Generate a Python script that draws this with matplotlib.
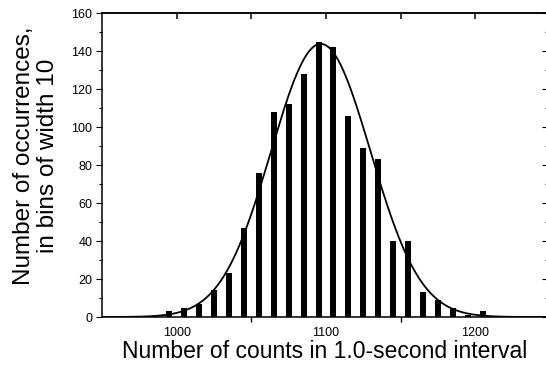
import numpy as np
import matplotlib
matplotlib.use("Agg")
import matplotlib.pyplot as plt
from matplotlib.ticker import FixedLocator, NullFormatter

plt.rcParams['font.family'] = ['Liberation Sans', 'DejaVu Sans']

# Data
bin_centers = [995, 1005, 1015, 1025, 1035, 1045, 1055, 1065, 1075, 1085, 1095,
               1105, 1115, 1125, 1135, 1145, 1155, 1165, 1175, 1185, 1195, 1205]
counts = [3, 5, 7, 14, 23, 47, 76, 108, 112, 128, 145,
          142, 106, 89, 83, 40, 40, 13, 9, 5, 1, 3]
fit_mean = 1096.5
fit_sigma = 33.3
fit_total = 1200
bin_width = 10
x_tick_labels = [1000, 1100, 1200]
y_ticks = [0, 20, 40, 60, 80, 100, 120, 140, 160]

fig = plt.figure(figsize=(5.46, 3.69), dpi=100)
ax = fig.add_axes([102/546, 1-317/369, 445/546, (317-13)/369])

ax.bar(bin_centers, counts, width=4, color='black', edgecolor='none', zorder=2)

xs = np.linspace(950, 1250, 600)
ys = fit_total * bin_width / (fit_sigma * np.sqrt(2*np.pi)) * np.exp(-(xs - fit_mean)**2 / (2*fit_sigma**2))
ax.plot(xs, ys, color='black', lw=1.3, zorder=3)

ax.set_xlim(950, 1248)
ax.set_ylim(0, 160)

for s in ax.spines.values():
    s.set_linewidth(1.1)
ax.spines['right'].set_visible(False)

# bottom x axis
ax.xaxis.set_major_locator(FixedLocator(x_tick_labels))
ax.xaxis.set_minor_locator(FixedLocator([1050, 1150]))
ax.tick_params(axis='x', which='major', length=0, labelsize=9, pad=7)
ax.tick_params(axis='x', which='minor', length=3.5, width=1, direction='out')

# left y axis
ax.yaxis.set_major_locator(FixedLocator(y_ticks))
ax.yaxis.set_minor_locator(FixedLocator(list(range(10, 160, 20))))
ax.tick_params(axis='y', which='major', length=4.5, width=0.8, direction='out', labelsize=9, pad=2.5)
ax.tick_params(axis='y', which='minor', length=2, width=0.8, direction='out')

# top axis ticks
top = ax.secondary_xaxis('top')
top.xaxis.set_major_locator(FixedLocator([1000, 1050, 1100, 1150, 1200]))
top.xaxis.set_major_formatter(NullFormatter())
top.tick_params(axis='x', which='major', length=4, width=1.1, direction='in')
top.spines['top'].set_linewidth(1.1)

# right axis ticks
right = ax.secondary_yaxis('right')
right.yaxis.set_major_locator(FixedLocator(y_ticks))
right.yaxis.set_minor_locator(FixedLocator(list(range(10, 160, 20))))
right.yaxis.set_major_formatter(NullFormatter())
right.tick_params(axis='y', which='major', length=3.5, width=0.8, direction='in')
right.tick_params(axis='y', which='minor', length=1.5, width=0.8, direction='in')

fig.text(325/546, 1-351/369, 'Number of counts in 1.0-second interval',
         fontsize=16.5, ha='center', va='center')
fig.text(36/546, 1-156/369, 'Number of occurrences,\nin bins of width 10',
         fontsize=17.5, ha='center', va='center', rotation=90, linespacing=1.1,
         multialignment='center')

fig.savefig('out.png', dpi=100)
